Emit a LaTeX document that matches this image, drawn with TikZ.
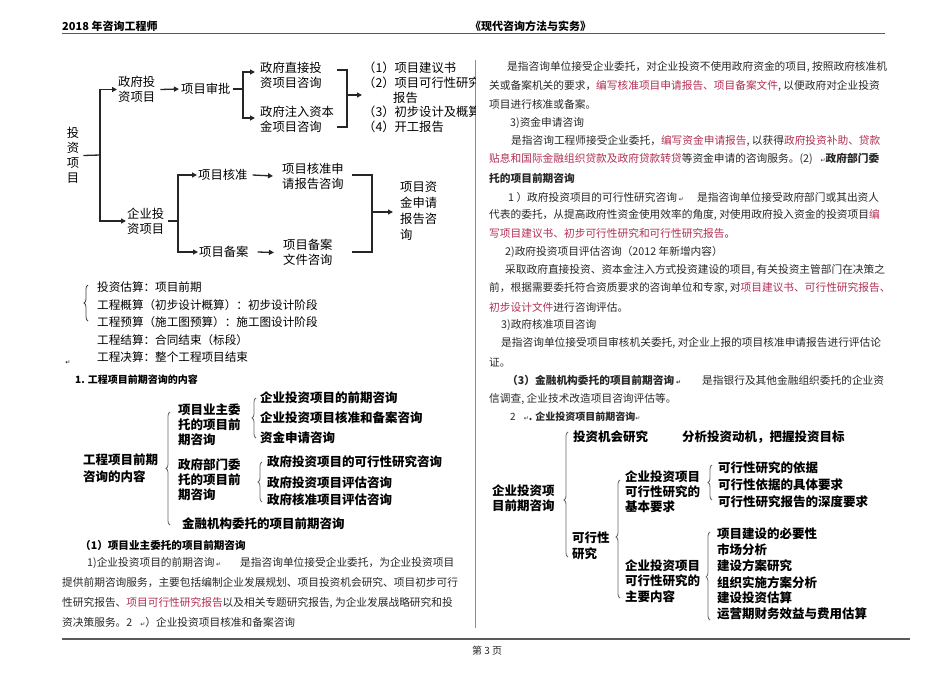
\documentclass[tikz,border=0pt]{standalone}
\usepackage{fontspec}
\setmainfont{Noto Sans CJK SC}
\newfontfamily\symf{DejaVu Sans}
\usetikzlibrary{arrows.meta,decorations.pathreplacing}
\definecolor{redt}{RGB}{178,48,84}
\definecolor{txt}{RGB}{40,40,40}
\newcommand\redtx[1]{\textcolor{redt}{#1}}
\newcommand\retm{{\symf\fontsize{6}{6}\selectfont ↵}}
\tikzset{
  lbl/.style={inner sep=0pt, anchor=west, align=left, font=\fontsize{12.3}{15}\selectfont},
  bx/.style={inner sep=0pt, anchor=west, align=left, font=\bfseries\fontsize{12.5}{15}\selectfont},
  body/.style={inner sep=0pt, anchor=west, font=\fontsize{10.7}{12}\selectfont, text=txt},
  hdr/.style={inner sep=0pt, anchor=west, font=\bfseries\fontsize{11}{12}\selectfont},
  ln/.style={line width=1.3pt, black!85},
  arr/.style={ln, -{Triangle[length=5pt,width=5pt]}},
  br/.style={decorate, decoration={brace, amplitude=4pt}, line width=0.8pt, black!60},
}
\begin{document}
\begin{tikzpicture}[x=1pt,y=-1pt]
\useasboundingbox[fill=white] (0,0) rectangle (950,672);
% header and footer
\node[hdr] (h1) at (62,26) {2018 年咨询工程师};
\node[hdr] (h2) at (470,26) {《现代咨询方法与实务》};
\draw[line width=1.6pt, black!65] (62,33.5) -- (885,33.5);
\draw[line width=1.6pt, black!65] (62,639) -- (910,639);
\node[body, font=\fontsize{10}{11}\selectfont] (pg) at (472,651) {第 3 页};
\draw[line width=0.8pt, black!45] (475.5,60) -- (475.5,628);

% ===== diagram 1 =====
\node[lbl, anchor=center, align=center] (inv) at (73,155.5) {投\\资\\项\\目};
\node[lbl] (gov) at (118,89.5) {政府投\\资项目};
\node[lbl] (ent) at (127,221) {企业投\\资项目};
\node[lbl] (spj) at (181,89) {项目审批};
\node[lbl] (g1) at (260,75.5) {政府直接投\\资项目咨询};
\node[lbl] (g2) at (260,119.5) {政府注入资本\\金项目咨询};
\begin{scope}
\clip (355,55) rectangle (475,140);
\node[lbl] (l1) at (363,68) {（1）项目建议书};
\node[lbl] (l2) at (363,83) {（2）项目可行性研究};
\node[lbl] (l2b) at (393,97.5) {报告};
\node[lbl] (l3) at (363,112) {（3）初步设计及概算};
\node[lbl] (l4) at (363,127) {（4）开工报告};
\end{scope}
\node[lbl] (hz) at (198,175) {项目核准};
\node[lbl] (ba) at (199,252) {项目备案};
\node[lbl] (hzs) at (282,176) {项目核准申\\请报告咨询};
\node[lbl] (bas) at (283,252.5) {项目备案\\文件咨询};
\node[lbl, font=\fontsize{12.3}{16}\selectfont] (zj) at (400,211) {项目资\\金申请\\报告咨\\询};

\coordinate (j1) at (100,155);
\coordinate (j2) at (243,89);
\coordinate (j3) at (178,221);
\coordinate (j4) at (347,95);
\coordinate (j5) at (372,212);
\draw[ln] ([xshift=4pt]inv.east) -- (j1);
\draw[arr] (j1) |- ([xshift=-1pt]gov.west);
\draw[arr] (j1) |- ([xshift=-1pt]ent.west);
\draw[arr] ([xshift=5pt]gov.east) -- ([xshift=-2pt]spj.west);
\draw[ln] ([xshift=2pt]spj.east) -- (j2);
\draw[arr] (j2) |- ([xshift=-5pt,yshift=3.5pt]g1.west);
\draw[arr] (j2) |- ([xshift=-5pt,yshift=1.5pt]g2.west);
\draw[ln] (337,70) -- (347,70) -- (347,127) -- (337,127);
\draw[arr] (j4) -- ([xshift=-1pt]j4 -| l1.west);
\draw[ln] ([xshift=4pt]ent.east) -- (j3);
\draw[arr] (j3) |- ([xshift=-1pt]hz.west);
\draw[arr] (j3) |- ([xshift=-1pt]ba.west);
\draw[arr] ([xshift=5pt]hz.east) -- ([xshift=-9pt]hzs.west);
\draw[arr] ([xshift=9pt]ba.east) -- ([xshift=-9pt]bas.west);
\draw[ln] (352,175) -- (372,175) -- (372,252) -- (352,252);
\draw[arr] (j5) -- ([xshift=-7pt]j5 -| zj.west);

% cost list
\draw[br, black!75] (88,321) -- (88,285);
\node[lbl, font=\fontsize{11.6}{13}\selectfont] (c1) at (97,287) {投资估算：项目前期};
\node[lbl, font=\fontsize{11.6}{13}\selectfont] (c2) at (97,305) {工程概算（初步设计概算）：初步设计阶段};
\node[lbl, font=\fontsize{11.6}{13}\selectfont] (c3) at (97,322) {工程预算（施工图预算）：施工图设计阶段};
\node[lbl, font=\fontsize{11.6}{13}\selectfont] (c4) at (97,340) {工程结算：合同结束（标段）};
\node[lbl, font=\fontsize{11.6}{13}\selectfont] (c5) at (97,357) {工程决算：整个工程项目结束};
\node[inner sep=0pt] (m0) at (68,363) {\retm};

% ===== diagram 2 =====
\node[hdr, font=\bfseries\fontsize{10}{11}\selectfont] (s1) at (75,380) {1. 工程项目前期咨询的内容};
\node[bx, font=\bfseries\fontsize{12.5}{17}\selectfont] (d0) at (83,468.5) {工程项目前期\\咨询的内容};
\draw[br] (170,525) -- (170,412);
\node[bx] (d1) at (178,425) {项目业主委\\托的项目前\\期咨询};
\draw[br] (256,438) -- (256,398);
\node[bx] (d11) at (260,398) {企业投资项目的前期咨询};
\node[bx] (d12) at (260,418) {企业投资项目核准和备案咨询};
\node[bx] (d13) at (260,438) {资金申请咨询};
\node[bx] (d2) at (178,480) {政府部门委\\托的项目前\\期咨询};
\draw[br] (262,502) -- (262,462);
\node[bx] (d21) at (267,462) {政府投资项目的可行性研究咨询};
\node[bx] (d22) at (267,483) {政府投资项目评估咨询};
\node[bx] (d23) at (267,500) {政府核准项目评估咨询};
\node[bx] (d3) at (182,524) {金融机构委托的项目前期咨询};

% left body text
\node[hdr, font=\bfseries\fontsize{10.6}{12}\selectfont] (s2) at (80,545) {（1）项目业主委托的项目前期咨询};
\node[body] (p1) at (87,563) {1)企业投资项目的前期咨询\,\retm};
\node[body] (p1b) at (240,563) {是指咨询单位接受企业委托，为企业投资项目};
\node[body] (p2) at (62,583) {提供前期咨询服务，主要包括编制企业发展规划、项目投资机会研究、项目初步可行};
\node[body] (p3) at (62,603) {性研究报告、\redtx{项目可行性研究报告}以及相关专题研究报告, 为企业发展战略研究和投};
\node[body] (p4) at (62,622) {资决策服务。2\hspace{8pt}\retm）企业投资项目核准和备案咨询};

% right body text
\node[body] (r1) at (507,67) {是指咨询单位接受企业委托，对企业投资不使用政府资金的项目, 按照政府核准机};
\node[body] (r2) at (489,86) {关或备案机关的要求，\redtx{编写核准项目申请报告、项目备案文件}, 以便政府对企业投资};
\node[body] (r3) at (489,104) {项目进行核准或备案。};
\node[body] (r4) at (510,123) {3)资金申请咨询};
\node[body] (r5) at (511,141) {是指咨询工程师接受企业委托，\redtx{编写资金申请报告}, 以获得\redtx{政府投资补助、贷款}};
\node[body] (r6) at (489,159) {\redtx{贴息和国际金融组织贷款及政府贷款转贷}等资金申请的咨询服务。(2)\hspace{8pt}\retm\textbf{政府部门委}};
\node[body, font=\bfseries\fontsize{10.7}{12}\selectfont] (r7) at (489,178) {托的项目前期咨询};
\node[body] (r8) at (508,197) {1 ）政府投资项目的可行性研究咨询\,\retm};
\node[body] (r8b) at (697,197) {是指咨询单位接受政府部门或其出资人};
\node[body] (r9) at (489,215) {代表的委托，从提高政府性资金使用效率的角度, 对使用政府投入资金的投资项目\redtx{编}};
\node[body] (r10) at (489,233) {\redtx{写项目建议书、初步可行性研究和可行性研究报告}。};
\node[body] (r11) at (505,252) {2)政府投资项目评估咨询（2012 年新增内容）};
\node[body] (r12) at (505,270) {采取政府直接投资、资本金注入方式投资建设的项目, 有关投资主管部门在决策之};
\node[body] (r13) at (489,288) {前，根据需要委托符合资质要求的咨询单位和专家, 对\redtx{项目建议书、可行性研究报告、}};
\node[body] (r14) at (489,307) {\redtx{初步设计文件}进行咨询评估。};
\node[body] (r15) at (501,325) {3)政府核准项目咨询};
\node[body] (r16) at (501,343) {是指咨询单位接受项目审核机关委托, 对企业上报的项目核准申请报告进行评估论};
\node[body] (r17) at (489,362) {证。};
\node[body, font=\bfseries\fontsize{10.7}{12}\selectfont] (r18) at (507,380) {（3）金融机构委托的项目前期咨询\,\retm};
\node[body] (r18b) at (702,380) {是指银行及其他金融组织委托的企业资};
\node[body] (r19) at (489,399) {信调查, 企业技术改造项目咨询评估等。};
\node[body, font=\fontsize{10}{11}\selectfont] (r20) at (510,417) {2\hspace{8pt}\retm\textbf{. 企业投资项目前期咨询}\retm};

% ===== diagram 3 =====
\node[bx] (e0) at (492,498.5) {企业投资项\\目前期咨询};
\draw[br, decoration={brace, amplitude=4pt, aspect=0.456}] (568,557) -- (568,432);
\node[bx] (e1) at (573,437) {投资机会研究};
\node[bx] (e1b) at (682,437) {分析投资动机，把握投资目标};
\node[bx, font=\bfseries\fontsize{12.5}{16}\selectfont] (e2) at (572,546) {可行性\\研究};
\draw[br, decoration={brace, amplitude=4pt, aspect=0.517}] (620,598) -- (620,480);
\node[bx] (e21) at (625,492) {企业投资项目\\可行性研究的\\基本要求};
\draw[br] (712,500) -- (712,465);
\node[bx] (f1) at (718,468) {可行性研究的依据};
\node[bx] (f2) at (718,485) {可行性依据的具体要求};
\node[bx] (f3) at (718,502) {可行性研究报告的深度要求};
\node[bx, font=\bfseries\fontsize{12.5}{15.5}\selectfont] (e22) at (625,581) {企业投资项目\\可行性研究的\\主要内容};
\draw[br, decoration={brace, amplitude=4pt, aspect=0.49}] (710,620) -- (710,532);
\node[bx] (k1) at (717,534) {项目建设的必要性};
\node[bx] (k2) at (717,550) {市场分析};
\node[bx] (k3) at (717,566) {建设方案研究};
\node[bx] (k4) at (717,583) {组织实施方案分析};
\node[bx] (k5) at (717,598) {建设投资估算};
\node[bx] (k6) at (717,614) {运营期财务效益与费用估算};
\end{tikzpicture}
\end{document}
